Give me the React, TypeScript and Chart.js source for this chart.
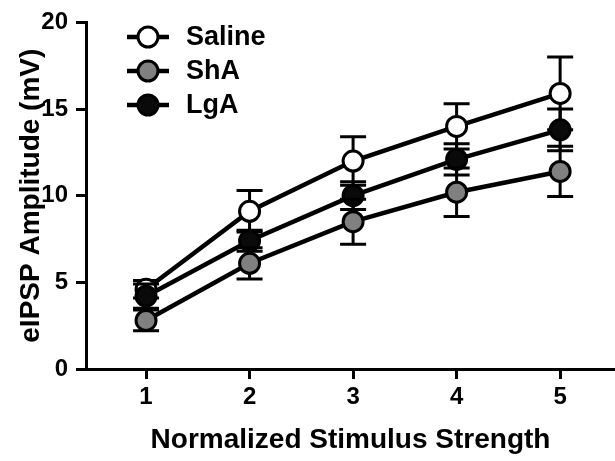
import React, { useEffect, useRef } from "react";
import { Chart, registerables } from "chart.js";

Chart.register(...registerables);

const stimulus = [1, 2, 3, 4, 5];
const xTicks = [1, 2, 3, 4, 5];
const yTicks = [0, 5, 10, 15, 20];

const salineMean = [4.6, 9.1, 12.0, 14.0, 15.9];
const salineErr = [0.5, 1.2, 1.4, 1.3, 2.1];
const shaMean = [2.8, 6.1, 8.5, 10.2, 11.4];
const shaErr = [0.6, 0.9, 1.3, 1.4, 1.45];
const lgaMean = [4.2, 7.4, 10.0, 12.1, 13.8];
const lgaErr = [0.7, 0.6, 0.8, 0.9, 1.2];

const seriesNames = ["Saline", "ShA", "LgA"];
const FONT = "'Liberation Sans', Arial, Helvetica, sans-serif";

const errorBarPlugin = {
  id: "errorBars",
  beforeDatasetDraw(chart: any, args: any) {
    const ds = chart.data.datasets[args.index] as any;
    const errs: number[] = ds.errors;
    if (!errs) return;
    const xs = chart.scales.x;
    const ys = chart.scales.y;
    const ctx = chart.ctx;
    ctx.save();
    ctx.strokeStyle = "#000";
    ctx.lineWidth = 3;
    ds.data.forEach((p: any, i: number) => {
      const px = xs.getPixelForValue(p.x);
      const top = ys.getPixelForValue(p.y + errs[i]);
      const bot = ys.getPixelForValue(p.y - errs[i]);
      ctx.beginPath();
      ctx.moveTo(px, top);
      ctx.lineTo(px, bot);
      ctx.moveTo(px - 13, top);
      ctx.lineTo(px + 13, top);
      ctx.moveTo(px - 13, bot);
      ctx.lineTo(px + 13, bot);
      ctx.stroke();
    });
    ctx.restore();
  },
};

const legendPlugin = {
  id: "insideLegend",
  afterDraw(chart: any) {
    const ctx = chart.ctx;
    const rows = [37, 71, 105];
    ctx.save();
    chart.data.datasets.forEach((ds: any, i: number) => {
      const y = rows[i];
      ctx.strokeStyle = "#000";
      ctx.lineWidth = 4.5;
      ctx.beginPath();
      ctx.moveTo(127, y);
      ctx.lineTo(169, y);
      ctx.stroke();
      ctx.beginPath();
      ctx.arc(148, y, 10, 0, Math.PI * 2);
      ctx.fillStyle = ds.pointBackgroundColor;
      ctx.fill();
      ctx.lineWidth = 3;
      ctx.stroke();
      ctx.fillStyle = "#000";
      ctx.font = `bold 27px ${FONT}`;
      ctx.textBaseline = "middle";
      ctx.textAlign = "left";
      ctx.fillText(ds.label, 186, y + 1);
    });
    ctx.restore();
  },
};

export default function App() {
  const ref = useRef<HTMLCanvasElement>(null);

  useEffect(() => {
    if (!ref.current) return;
    const mk = (name: string, mean: number[], err: number[], fill: string, order: number) => ({
      label: name,
      data: stimulus.map((x, i) => ({ x, y: mean[i] })),
      errors: err,
      borderColor: "#000",
      borderWidth: 4.5,
      pointRadius: 10,
      pointHoverRadius: 10,
      pointBorderWidth: 3,
      pointBackgroundColor: fill,
      pointBorderColor: "#000",
      backgroundColor: fill,
      showLine: true,
      fill: false,
      order,
      clip: false as any,
    });
    const chart = new Chart(ref.current, {
      type: "scatter",
      data: {
        datasets: [
          mk(seriesNames[0], salineMean, salineErr, "#ffffff", 3),
          mk(seriesNames[1], shaMean, shaErr, "#808080", 1),
          mk(seriesNames[2], lgaMean, lgaErr, "#0a0a0a", 2),
        ] as any,
      },
      plugins: [errorBarPlugin, legendPlugin],
      options: {
        animation: false,
        responsive: false,
        layout: { autoPadding: false, padding: { left: 0, right: 0, top: 20, bottom: 0 } },
        plugins: { legend: { display: false }, tooltip: { enabled: false } },
        scales: {
          x: {
            type: "linear",
            min: 0.42,
            max: 5.53,
            afterBuildTicks: (s: any) => {
              s.ticks = xTicks.map((v) => ({ value: v }));
            },
            afterFit: (s: any) => {
              s.height = 92;
            },
            grid: { drawOnChartArea: false, drawTicks: true, tickLength: 10, color: "#000", lineWidth: 3 },
            border: { display: true, color: "#000", width: 3 },
            ticks: { color: "#000", padding: 4, font: { family: FONT, size: 24, weight: "bold" } },
            title: {
              display: true,
              text: "Normalized Stimulus Strength",
              color: "#000",
              font: { family: FONT, size: 28, weight: "bold" },
              padding: { top: 0, bottom: 4 },
            },
          },
          y: {
            type: "linear",
            min: 0,
            max: 20,
            afterBuildTicks: (s: any) => {
              s.ticks = yTicks.map((v) => ({ value: v }));
            },
            afterFit: (s: any) => {
              s.width = 86;
            },
            grid: { drawOnChartArea: false, drawTicks: true, tickLength: 10, color: "#000", lineWidth: 3 },
            border: { display: true, color: "#000", width: 3 },
            ticks: { color: "#000", padding: 8, font: { family: FONT, size: 24, weight: "bold" } },
            title: {
              display: true,
              text: "eIPSP Amplitude (mV)",
              color: "#000",
              font: { family: FONT, size: 28, weight: "bold" },
              padding: { top: 14, bottom: 0 },
            },
          },
        },
      } as any,
    });
    return () => chart.destroy();
  }, []);

  return (
    <div style={{ position: "fixed", left: 0, top: 0, width: 615, height: 461, background: "#fff" }}>
      <canvas ref={ref} width={615} height={461} style={{ width: 615, height: 461 }} />
    </div>
  );
}
